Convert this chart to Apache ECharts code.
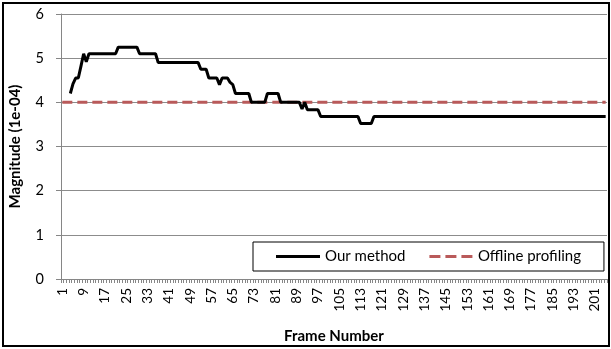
<!DOCTYPE html>
<html>
<head>
<meta charset="utf-8">
<script src="https://cdn.jsdelivr.net/npm/echarts@6/dist/echarts.min.js"></script>
<style>html,body{margin:0;padding:0;background:#fff;}#c{width:611px;height:349px;}</style>
</head>
<body>
<div id="c"></div>
<script>
// Frame numbers 1..205
var frames = [];
for (var i = 1; i <= 205; i++) frames.push(String(i));

// "Our method" magnitude (1e-04), frames 1..205
var ourMethod = [
  null, null, null,
  4.2, 4.42, 4.55, 4.55, 4.82, 5.1, 4.92,
  5.1, 5.1, 5.1, 5.1, 5.1, 5.1, 5.1, 5.1, 5.1, 5.1, 5.1,
  5.25, 5.25, 5.25, 5.25, 5.25, 5.25, 5.25, 5.25,
  5.1, 5.1, 5.1, 5.1, 5.1, 5.1, 5.1,
  4.9, 4.9, 4.9, 4.9, 4.9, 4.9, 4.9, 4.9, 4.9, 4.9, 4.9, 4.9, 4.9, 4.9, 4.9, 4.9,
  4.75, 4.75, 4.75,
  4.55, 4.55, 4.55, 4.55,
  4.4,
  4.55, 4.55, 4.55,
  4.45, 4.4,
  4.2, 4.2, 4.2, 4.2, 4.2, 4.2,
  4.0, 4.0, 4.0, 4.0, 4.0, 4.0,
  4.2, 4.2, 4.2, 4.2, 4.2,
  4.0, 4.0, 4.0, 4.0, 4.0, 4.0, 4.0, 4.0,
  3.85, 4.0,
  3.83, 3.83, 3.83, 3.83, 3.83,
  3.68, 3.68, 3.68, 3.68, 3.68, 3.68, 3.68, 3.68, 3.68, 3.68, 3.68, 3.68, 3.68, 3.68, 3.68,
  3.52, 3.52, 3.52, 3.52, 3.52,
  3.68, 3.68, 3.68, 3.68, 3.68, 3.68, 3.68, 3.68, 3.68, 3.68,
  3.68, 3.68, 3.68, 3.68, 3.68, 3.68, 3.68, 3.68, 3.68, 3.68,
  3.68, 3.68, 3.68, 3.68, 3.68, 3.68, 3.68, 3.68, 3.68, 3.68,
  3.68, 3.68, 3.68, 3.68, 3.68, 3.68, 3.68, 3.68, 3.68, 3.68,
  3.68, 3.68, 3.68, 3.68, 3.68, 3.68, 3.68, 3.68, 3.68, 3.68,
  3.68, 3.68, 3.68, 3.68, 3.68, 3.68, 3.68, 3.68, 3.68, 3.68,
  3.68, 3.68, 3.68, 3.68, 3.68, 3.68, 3.68, 3.68, 3.68, 3.68,
  3.68, 3.68, 3.68, 3.68, 3.68, 3.68, 3.68, 3.68, 3.68, 3.68,
  3.68, 3.68, 3.68, 3.68, 3.68, 3.68, 3.68, 3.68
];

// "Offline profiling" constant level
var offlineLevel = 4.0;
var offline = frames.map(function () { return offlineLevel; });

var seriesNames = ['Our method', 'Offline profiling'];

var FONT = 'Lato, "Open Sans", sans-serif';
var RED = '#b95a5a';
var chart = echarts.init(document.getElementById('c'), null, {renderer: 'canvas'});
chart.setOption({
  animation: false,
  backgroundColor: '#fff',
  textStyle: {fontFamily: FONT},
  grid: {left: 61, right: 4, top: 14, bottom: 69, containLabel: false},
  graphic: [{
    type: 'rect', silent: true,
    shape: {x: 3, y: 3, width: 606, height: 343},
    style: {fill: 'none', stroke: '#000', lineWidth: 2}
  }],
  legend: {
    left: 253, top: 242,
    padding: [5, 23, 5, 23],
    itemGap: 24,
    itemWidth: 44, itemHeight: 3,
    borderColor: '#000', borderWidth: 1,
    backgroundColor: '#fff',
    textStyle: {fontFamily: FONT, fontSize: 15, color: '#000', lineHeight: 19},
    data: [
      {name: seriesNames[0], icon: 'path://M0,0h44v3h-44z', itemStyle: {color: '#000'}},
      {name: seriesNames[1], icon: 'path://M0,0h11v3h-11z M16,0h11v3h-11z M32,0h11v3h-11z', itemStyle: {color: RED}}
    ]
  },
  xAxis: {
    type: 'category',
    data: frames,
    boundaryGap: true,
    name: 'Frame Number',
    nameLocation: 'middle',
    nameGap: 50,
    nameTextStyle: {fontFamily: FONT, fontSize: 15, fontWeight: 'bold', color: '#000'},
    axisLine: {lineStyle: {color: '#868686', width: 1}},
    axisTick: {show: true, interval: 0, length: 4, lineStyle: {color: '#868686'}},
    axisLabel: {interval: 7, rotate: 90, fontSize: 13.5, color: '#000', fontFamily: FONT, margin: 9},
    splitLine: {show: false}
  },
  yAxis: {
    type: 'value',
    min: 0, max: 6, interval: 1,
    name: 'Magnitude (1e-04)',
    nameLocation: 'middle',
    nameGap: 38,
    nameTextStyle: {fontFamily: FONT, fontSize: 15, fontWeight: 'bold', color: '#000'},
    axisLine: {show: true, lineStyle: {color: '#868686', width: 1}},
    axisTick: {show: true, length: 5, lineStyle: {color: '#868686'}},
    axisLabel: {fontSize: 14.5, color: '#000', fontFamily: FONT, margin: 17},
    splitLine: {show: true, lineStyle: {color: '#8c8c8c', width: 1}}
  },
  series: [
    {
      name: seriesNames[0],
      type: 'line',
      data: ourMethod,
      showSymbol: false,
      symbol: 'none',
      connectNulls: false,
      lineStyle: {color: '#000', width: 3},
      itemStyle: {color: '#000'},
      z: 3
    },
    {
      name: seriesNames[1],
      type: 'line',
      data: offline,
      showSymbol: false,
      symbol: 'none',
      lineStyle: {color: RED, width: 3, type: [10, 5]},
      itemStyle: {color: RED},
      z: 2
    }
  ]
});
</script>
</body>
</html>
